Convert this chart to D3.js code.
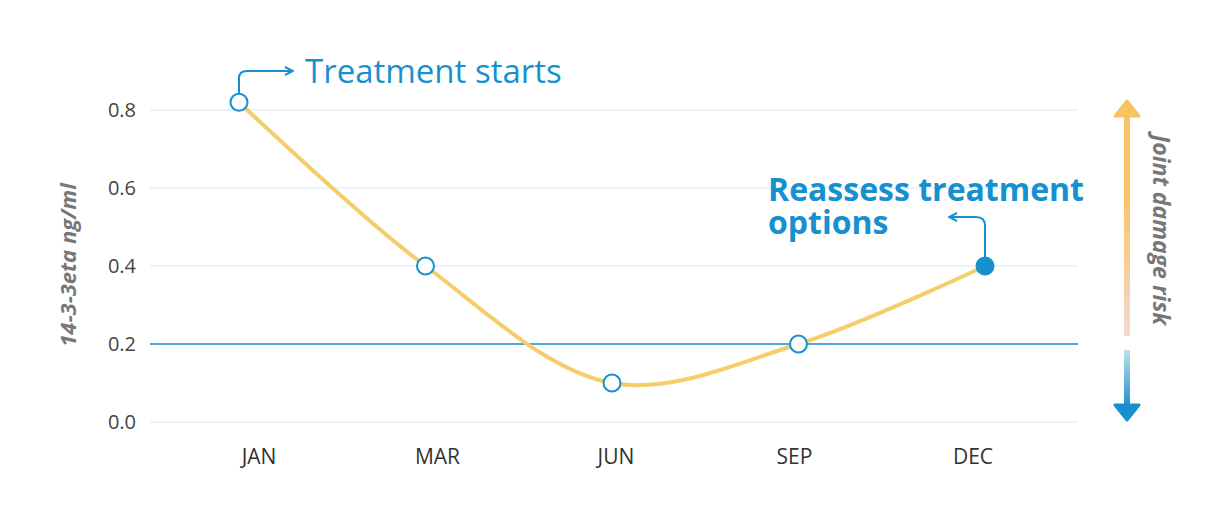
<!DOCTYPE html><html><head><meta charset="utf-8"><script src="https://cdn.jsdelivr.net/npm/d3@7"></script>
<style>body{margin:0;background:#fff;font-family:"Open Sans",sans-serif}</style></head><body><svg id="c" width="1230" height="506"></svg>
<script>
const months=["JAN","MAR","JUN","SEP","DEC"];
const values=[0.82,0.40,0.10,0.20,0.40];
const yTicks=[0,0.2,0.4,0.6,0.8];
const threshold=0.2;
const svg=d3.select("#c");
const blue="#1790d0";
const x=d3.scalePoint().domain(months).range([239,985]);
const xl=d3.scalePoint().domain(months).range([259,973]);
const y=d3.scaleLinear().domain([0,0.8]).range([422,110]);
const defs=svg.append("defs");
const g1=defs.append("linearGradient").attr("id","up").attr("x1",0).attr("y1",1).attr("x2",0).attr("y2",0);
g1.append("stop").attr("offset","0").attr("stop-color","#f3d9cf");
g1.append("stop").attr("offset","0.6").attr("stop-color","#f9c46a");
g1.append("stop").attr("offset","1").attr("stop-color","#f7c462");
const g2=defs.append("linearGradient").attr("id","dn").attr("x1",0).attr("y1",0).attr("x2",0).attr("y2",1);
g2.append("stop").attr("offset","0").attr("stop-color","#bfe0ea");
g2.append("stop").attr("offset","1").attr("stop-color","#1a8fd0");
defs.append("marker").attr("id","ah").attr("viewBox","0 0 10 10").attr("refX",8).attr("refY",5).attr("markerWidth",5).attr("markerHeight",5).attr("orient","auto")
 .append("path").attr("d","M1,1L9,5L1,9").attr("fill","none").attr("stroke",blue).attr("stroke-width",2);
svg.selectAll(".grid").data(yTicks).join("line").attr("x1",150).attr("x2",1078).attr("y1",d=>y(d)).attr("y2",d=>y(d)).attr("stroke","#e6f0f7").attr("stroke-width",1.5);
svg.append("line").attr("x1",150).attr("x2",1078).attr("y1",y(threshold)).attr("y2",y(threshold)).attr("stroke",blue).attr("stroke-width",1.5);
svg.selectAll(".yt").data(yTicks).join("text").attr("x",136).attr("y",d=>y(d)+7).attr("text-anchor","end").attr("font-size",20).attr("fill","#444").text(d=>d.toFixed(1));
svg.selectAll(".xt").data(months).join("text").attr("x",d=>xl(d)).attr("y",464).attr("text-anchor","middle").attr("font-size",21).attr("fill","#333").text(d=>d);
svg.append("text").attr("transform","translate(76,265) rotate(-90)").attr("text-anchor","middle").attr("font-size",22).attr("font-weight","bold").attr("font-style","italic").attr("fill","#777").text("14-3-3eta ng/ml");
const data=months.map((m,i)=>({m,v:values[i]}));
svg.append("path").datum(data).attr("d",d3.line().x(d=>x(d.m)).y(d=>y(d.v)).curve(d3.curveCatmullRom.alpha(0.5))).attr("fill","none").attr("stroke","#f5cd6a").attr("stroke-width",4);
svg.selectAll(".pt").data(data).join("circle").attr("cx",d=>x(d.m)).attr("cy",d=>y(d.v)).attr("r",8.5).attr("fill",(d,i)=>i==data.length-1?blue:"#fff").attr("stroke",blue).attr("stroke-width",2);
const p0=[x("JAN"),y(values[0])];
svg.append("path").attr("d",`M${p0[0]},${p0[1]-9}V78Q${p0[0]},71 ${p0[0]+8},71H292`).attr("fill","none").attr("stroke",blue).attr("stroke-width",2).attr("marker-end","url(#ah)");
svg.append("text").attr("x",305).attr("y",83).attr("font-size",33).attr("fill",blue).text("Treatment starts");
const p4=[x("DEC"),y(values[4])];
svg.append("path").attr("d",`M${p4[0]},${p4[1]-9}V226Q${p4[0]},217 ${p4[0]-9},217H950`).attr("fill","none").attr("stroke",blue).attr("stroke-width",2).attr("marker-end","url(#ah)");
svg.append("text").attr("x",768).attr("y",201).attr("font-size",32).attr("font-weight","bold").attr("fill",blue).text("Reassess treatment");
svg.append("text").attr("x",768).attr("y",234).attr("font-size",32).attr("font-weight","bold").attr("fill",blue).text("options");
svg.append("rect").attr("x",1124).attr("y",112).attr("width",6).attr("height",224).attr("fill","url(#up)");
svg.append("path").attr("d","M1115,116L1127,101L1139,116Z").attr("fill","#f7c462").attr("stroke","#f7c462").attr("stroke-width",3).attr("stroke-linejoin","round");
svg.append("rect").attr("x",1124).attr("y",350).attr("width",6).attr("height",58).attr("fill","url(#dn)");
svg.append("path").attr("d","M1115,405L1127,420L1139,405Z").attr("fill",blue).attr("stroke",blue).attr("stroke-width",3).attr("stroke-linejoin","round");
svg.append("text").attr("transform","translate(1153,230) rotate(90)").attr("text-anchor","middle").attr("font-size",23).attr("font-weight","bold").attr("font-style","italic").attr("fill","#777").text("Joint damage risk");
</script></body></html>
